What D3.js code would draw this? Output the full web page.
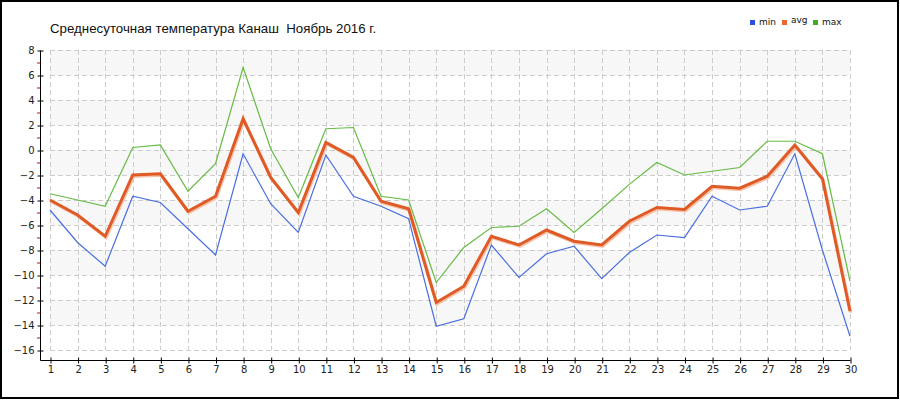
<!DOCTYPE html>
<html>
<head>
<meta charset="utf-8">
<script src="https://cdn.jsdelivr.net/npm/d3@7"></script>
<style>
  body { margin: 0; background: #fff; }
  text { font-family: "DejaVu Sans", Tahoma, sans-serif; }
</style>
</head>
<body>
<svg width="900" height="400"></svg>
<script>
var days = d3.range(1, 31);
var minT = [-4.8, -7.4, -9.3, -3.7, -4.2, -6.3, -8.4, -0.3, -4.3, -6.6,
            -0.4, -3.7, -4.5, -5.5, -14.1, -13.5, -7.6, -10.2, -8.3, -7.7,
            -10.3, -8.2, -6.8, -7.0, -3.7, -4.8, -4.5, -0.3, -8.0, -14.9];
var avgT = [-4.0, -5.2, -6.9, -2.0, -1.9, -4.9, -3.7, 2.5, -2.2, -5.0,
            0.6, -0.6, -4.1, -4.7, -12.2, -10.9, -6.9, -7.6, -6.4, -7.3,
            -7.6, -5.7, -4.6, -4.75, -2.9, -3.05, -2.1, 0.4, -2.3, -12.9];
var maxT = [-3.5, -4.0, -4.5, 0.2, 0.4, -3.3, -1.1, 6.6, 0.1, -3.8,
            1.7, 1.8, -3.7, -4.0, -10.6, -7.8, -6.2, -6.1, -4.7, -6.6,
            -4.7, -2.75, -1.0, -2.0, -1.7, -1.4, 0.7, 0.7, -0.3, -10.5];
var yTicks = d3.range(-16, 9, 2);
var title = "Среднесуточная температура Канаш  Ноябрь 2016 г.";

var svg = d3.select("svg");

svg.append("rect")
    .attr("x", 1).attr("y", 1).attr("width", 897).attr("height", 397)
    .attr("fill", "#fff").attr("stroke", "#000").attr("stroke-width", 2);

var x = d3.scaleLinear().domain([1, 30]).range([50, 850]);
var y = d3.scaleLinear().domain([-16, 8]).range([350, 50]);

// shaded bands
svg.append("g").selectAll("rect")
  .data(d3.range(-16, 8, 4))
  .enter().append("rect")
    .attr("x", x(1))
    .attr("width", x(30) - x(1))
    .attr("y", function(d) { return y(d + 4); })
    .attr("height", function(d) { return y(d + 2) - y(d + 4); })
    .attr("fill", "#f7f7f7");

// grid
var grid = svg.append("g")
    .attr("stroke", "#cccccc")
    .attr("stroke-dasharray", "5,3");
grid.selectAll(".h").data(yTicks).enter().append("line")
    .attr("x1", x(1)).attr("x2", x(30))
    .attr("y1", function(d) { return y(d) + 0.5; })
    .attr("y2", function(d) { return y(d) + 0.5; });
grid.selectAll(".v").data(days).enter().append("line")
    .attr("y1", y(8)).attr("y2", y(-16))
    .attr("x1", function(d) { return Math.round(x(d)) + 0.5; })
    .attr("x2", function(d) { return Math.round(x(d)) + 0.5; });

// axes
var yAxis = svg.append("g")
    .attr("transform", "translate(40.5,0.5)")
    .call(d3.axisLeft(y).tickValues(yTicks).tickSize(3).tickSizeOuter(0).tickPadding(3));
yAxis.selectAll(".tick line").attr("x1", 3).attr("x2", -3);
svg.append("g").selectAll("line")
  .data(d3.range(-15, 8, 2))
  .enter().append("line")
    .attr("x1", 37).attr("x2", 40)
    .attr("y1", function(d) { return y(d) + 0.5; })
    .attr("y2", function(d) { return y(d) + 0.5; })
    .attr("stroke", "#e00000");

var xAxis = svg.append("g")
    .attr("transform", "translate(0.5,360.5)")
    .call(d3.axisBottom(x).tickValues(days).tickFormat(d3.format("d")).tickSize(3).tickSizeOuter(0).tickPadding(2));
xAxis.selectAll(".tick line").attr("y1", -3).attr("y2", 3);
xAxis.select(".domain").attr("d", "M" + (x(1) - 10) + ",0H" + x(30));

svg.selectAll(".tick text").attr("font-size", 10).attr("fill", "#222")
    .style("font-family", "DejaVu Sans, Tahoma, sans-serif");
svg.selectAll(".domain").attr("stroke", "#000");
yAxis.select(".domain").attr("d", "M0," + (y(8)) + "V" + (y(-16) + 10));

// lines
var line = d3.line()
    .x(function(d, i) { return x(days[i]); })
    .y(function(d) { return y(d); });

svg.append("path").datum(minT)
    .attr("d", line).attr("fill", "none")
    .attr("stroke", "#4a6ee0").attr("stroke-width", 1.2);
svg.append("path").datum(maxT)
    .attr("d", line).attr("fill", "none")
    .attr("stroke", "#66bb44").attr("stroke-width", 1.2);
svg.append("path").datum(avgT)
    .attr("d", line).attr("fill", "none")
    .attr("transform", "translate(1,1.5)")
    .attr("stroke", "#f6c4ac").attr("stroke-width", 3);
svg.append("path").datum(avgT)
    .attr("d", line).attr("fill", "none")
    .attr("stroke", "#e05a26").attr("stroke-width", 3)
    .attr("stroke-linejoin", "miter");

// title
svg.append("text")
    .attr("x", 50).attr("y", 33)
    .attr("font-size", 13.3)
    .style("font-family", "Liberation Sans, Arial, sans-serif")
    .style("white-space", "pre")
    .attr("fill", "#111")
    .text(title);

// legend
var legend = [
  {name: "min", color: "#2a4fe0", x: 750},
  {name: "avg", color: "#ee6630", x: 782},
  {name: "max", color: "#44aa22", x: 813}
];
var lg = svg.append("g").selectAll("g").data(legend).enter().append("g")
    .attr("transform", function(d) { return "translate(" + d.x + ",0)"; });
lg.append("rect").attr("x", 0).attr("y", 20).attr("width", 5).attr("height", 5)
    .attr("fill", function(d) { return d.color; });
lg.append("text").attr("x", 9)
    .attr("y", function(d) { return d.name === "avg" ? 23 : 25; })
    .attr("font-size", 9).attr("fill", "#111")
    .text(function(d) { return d.name; });
</script>
</body>
</html>
